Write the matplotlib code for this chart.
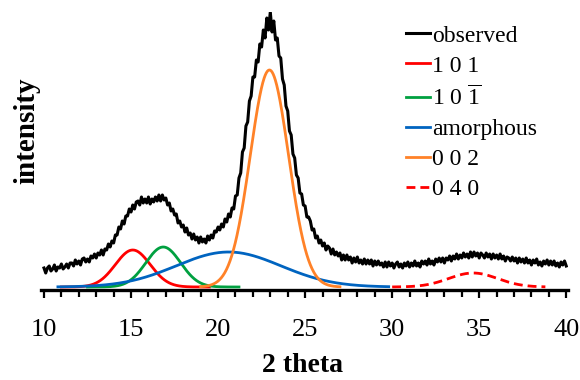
import numpy as np
import matplotlib
matplotlib.use("Agg")
import matplotlib.pyplot as plt
from matplotlib.ticker import MultipleLocator

# ---- measured pattern (2 theta in degrees, intensity in arbitrary units) ----
obs_start, obs_step = 10.0, 0.1
observed = [
    19, 14, 19, 21, 16, 18, 22, 16, 20, 19,
    23, 18, 20, 23, 19, 24, 24, 21, 27, 23,
    26, 22, 28, 29, 25, 28, 25, 31, 29, 33,
    29, 34, 32, 37, 32, 38, 37, 43, 40, 46,
    44, 52, 52, 60, 58, 66, 63, 71, 71, 78,
    75, 82, 78, 85, 86, 82, 90, 84, 88, 84,
    90, 83, 88, 85, 90, 86, 92, 86, 92, 87,
    89, 82, 84, 76, 78, 72, 73, 64, 66, 60,
    62, 55, 59, 52, 54, 48, 53, 47, 50, 44,
    50, 45, 48, 44, 51, 47, 52, 49, 56, 55,
    60, 57, 63, 60, 68, 65, 73, 70, 79, 78,
    91, 92, 109, 114, 135, 139, 161, 165, 186, 191,
    210, 210, 227, 225, 243, 240, 257, 249, 269, 257,
    275, 255, 266, 247, 249, 231, 229, 208, 202, 181,
    176, 156, 152, 133, 129, 112, 109, 94, 93, 82,
    81, 70, 70, 66, 57, 58, 49, 51, 44, 47,
    41, 44, 37, 41, 39, 33, 38, 32, 35, 31,
    34, 27, 32, 27, 32, 27, 30, 24, 29, 25,
    30, 24, 27, 23, 28, 23, 27, 23, 27, 21,
    26, 22, 26, 22, 24, 20, 25, 20, 25, 21,
    24, 19, 23, 25, 20, 23, 19, 24, 21, 25,
    20, 24, 21, 26, 21, 24, 20, 26, 23, 26,
    22, 28, 23, 26, 22, 28, 25, 29, 25, 29,
    24, 29, 27, 31, 26, 31, 28, 33, 28, 32,
    29, 34, 30, 33, 29, 35, 30, 35, 31, 34,
    29, 34, 32, 29, 34, 30, 33, 28, 33, 29,
    32, 28, 33, 28, 31, 26, 30, 29, 26, 30,
    26, 29, 24, 29, 25, 28, 24, 29, 24, 27,
    22, 27, 24, 28, 22, 25, 21, 26, 23, 27,
    22, 26, 22, 26, 21, 24, 20, 25, 22, 26,
    21,
]
two_theta = np.round(obs_start + obs_step * np.arange(len(observed)), 2)

# ---- fitted peak components: label, centre, height, width (sigma), drawn range ----
peak_labels = ["1 0 1", r"1 0 $\overline{\mathrm{1}}$", "amorphous", "0 0 2", "0 4 0"]
peak_centres = [15.1, 16.85, 20.6, 22.95, 34.65]
peak_heights = [37, 40, 35, 217, 14]
peak_sigmas = [1.0, 1.0, 3.0, 1.1, 1.4]
peak_ranges = [(11.0, 19.5), (12.5, 21.2), (10.8, 29.8), (19.0, 27.0), (30.0, 38.8)]

colors = ["#FF0000", "#00A040", "#0064C0", "#FF8228", "#FF0000"]
styles = ["-", "-", "-", "-", (0, (3.2, 1.8))]

plt.rcParams["font.family"] = ["Liberation Serif", "DejaVu Serif"]
plt.rcParams["mathtext.fontset"] = "custom"
plt.rcParams["mathtext.rm"] = "Liberation Serif"
plt.rcParams["mathtext.it"] = "Liberation Serif:italic"
plt.rcParams["mathtext.bf"] = "Liberation Serif:bold"

fig = plt.figure(figsize=(5.8, 3.8), dpi=100)
ax = fig.add_axes([40.5 / 580, 90 / 380, 527.5 / 580, 278 / 380])

ax.plot(two_theta, observed, color="black", lw=2.2, label="observed", zorder=5)

for lab, c0, h, s, (a, b), col, ls in zip(peak_labels, peak_centres, peak_heights,
                                          peak_sigmas, peak_ranges, colors, styles):
    xx = np.linspace(a, b, 400)
    yy = h * np.exp(-0.5 * ((xx - c0) / s) ** 2)
    ax.plot(xx, yy, color=col, lw=2.0, ls=ls, label=lab, zorder=4)

ax.set_xlim(9.8, 40.1)
ax.set_ylim(-3, 275)

for side in ("left", "right", "top"):
    ax.spines[side].set_visible(False)
ax.spines["bottom"].set_linewidth(2.4)
ax.set_yticks([])

ax.xaxis.set_major_locator(MultipleLocator(5))
ax.xaxis.set_minor_locator(MultipleLocator(1))
ax.tick_params(axis="x", which="major", direction="out", length=6, width=1.6,
               labelsize=19, pad=15)
ax.tick_params(axis="x", which="minor", direction="out", length=5, width=1.6)

fig.text(303 / 580, 1 - 372 / 380, "2 theta", fontsize=20, fontweight="bold",
         ha="center", va="baseline")
fig.text(27 / 580, 1 - 131 / 380, "intensity", rotation=90, fontsize=21,
         fontweight="bold", ha="center", va="center")

leg = ax.legend(loc="upper left", bbox_to_anchor=(406 / 580, 1 - 25 / 380),
                bbox_transform=fig.transFigure, frameon=False, fontsize=17,
                handlelength=1.0, handletextpad=0.1, labelspacing=0.36,
                borderpad=0, borderaxespad=0)

fig.savefig("out.png", dpi=100)
